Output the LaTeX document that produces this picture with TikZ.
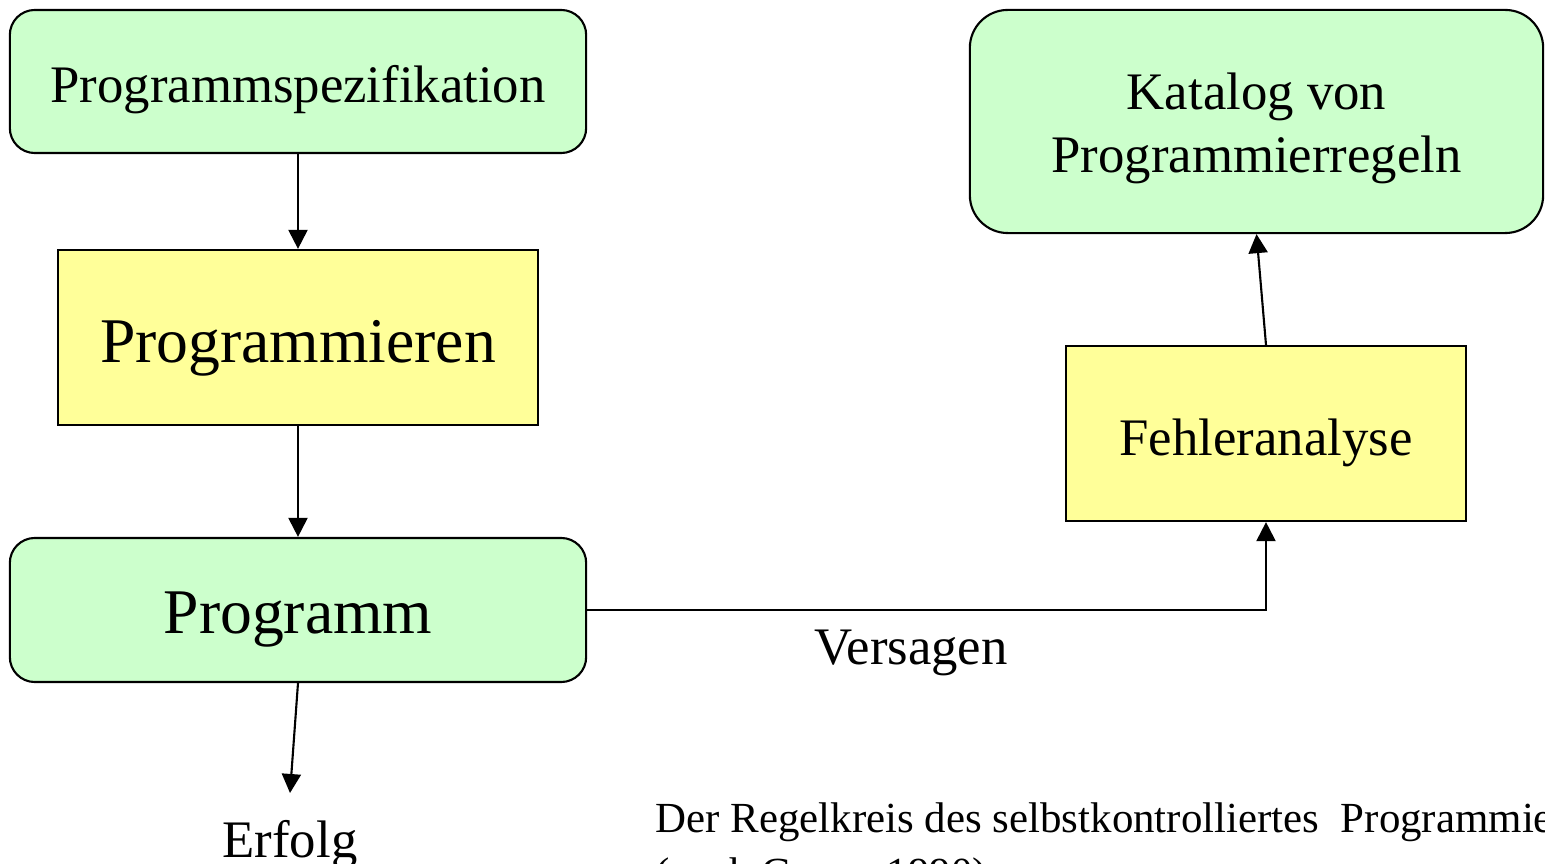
\documentclass[tikz,border=0pt]{standalone}
\usepackage{fontspec}
\setmainfont{Liberation Serif}
\usetikzlibrary{arrows.meta}
\definecolor{boxgreen}{HTML}{CCFFCC}
\definecolor{boxyellow}{HTML}{FFFF99}
\begin{document}
\begin{tikzpicture}[x=0.01cm,y=-0.01cm,
  greenbox/.style={draw=black,fill=boxgreen,line width=0.6pt,inner sep=0pt},
  yellowbox/.style={draw=black,fill=boxyellow,line width=0.6pt,inner sep=0pt},
  arr/.style={line width=0.6pt,-{Triangle[length=0.19cm,width=0.19cm]}},
  txt/.style={inner sep=0pt,anchor=base}]
\useasboundingbox (0,0) rectangle (1545,864);
\clip (0,0) rectangle (1545,864);
\node[greenbox,rounded corners=0.25cm,minimum width=5.76cm,minimum height=1.43cm,
  text height=0.41cm,text depth=0pt,font=\fontsize{15}{18}\selectfont] (spec) at (298,81.5) {Programmspezifikation};
\node[yellowbox,minimum width=4.80cm,minimum height=1.75cm,
  text height=0.49cm,text depth=0pt,font=\fontsize{18.1}{21}\selectfont] (prog) at (298,337.5) {Programmieren};
\node[greenbox,rounded corners=0.25cm,minimum width=5.76cm,minimum height=1.44cm,
  text height=0.46cm,text depth=0pt,font=\fontsize{18.1}{21}\selectfont] (programm) at (298,610) {Programm};
\node[greenbox,rounded corners=0.38cm,minimum width=5.73cm,minimum height=2.23cm,align=center,
  font=\fontsize{15}{17.9}\selectfont] (katalog) at (1256.5,121.5) {\rule{0pt}{14.5pt}Katalog von\\Programmierregeln};
\node[yellowbox,minimum width=4.00cm,minimum height=1.75cm,
  text height=0.43cm,text depth=0pt,font=\fontsize{15}{18}\selectfont] (fehler) at (1266,433.5) {Fehleranalyse};
\coordinate (erf) at (290,793);
\node[txt,font=\fontsize{15}{18}\selectfont] (erfolg) at (290,857) {Erfolg};
\node[txt,font=\fontsize{15}{18}\selectfont] (versagen) at (911,665) {Versagen};
\node[inner sep=0pt,anchor=base west,align=left,font=\fontsize{12.2}{15.4}\selectfont] (caption) at (655,887)
  {Der Regelkreis des selbstkontrolliertes\ \ Programmierens\\(nach Grams 1990)};
\draw[arr] (spec.south) -- (prog.north);
\draw[arr] (prog.south) -- (programm.north);
\draw[arr] (programm.south) -- (erf);
\draw[arr] (programm.east) -| (fehler.south);
\draw[arr] (fehler.north) -- (katalog.south);
\end{tikzpicture}
\end{document}
